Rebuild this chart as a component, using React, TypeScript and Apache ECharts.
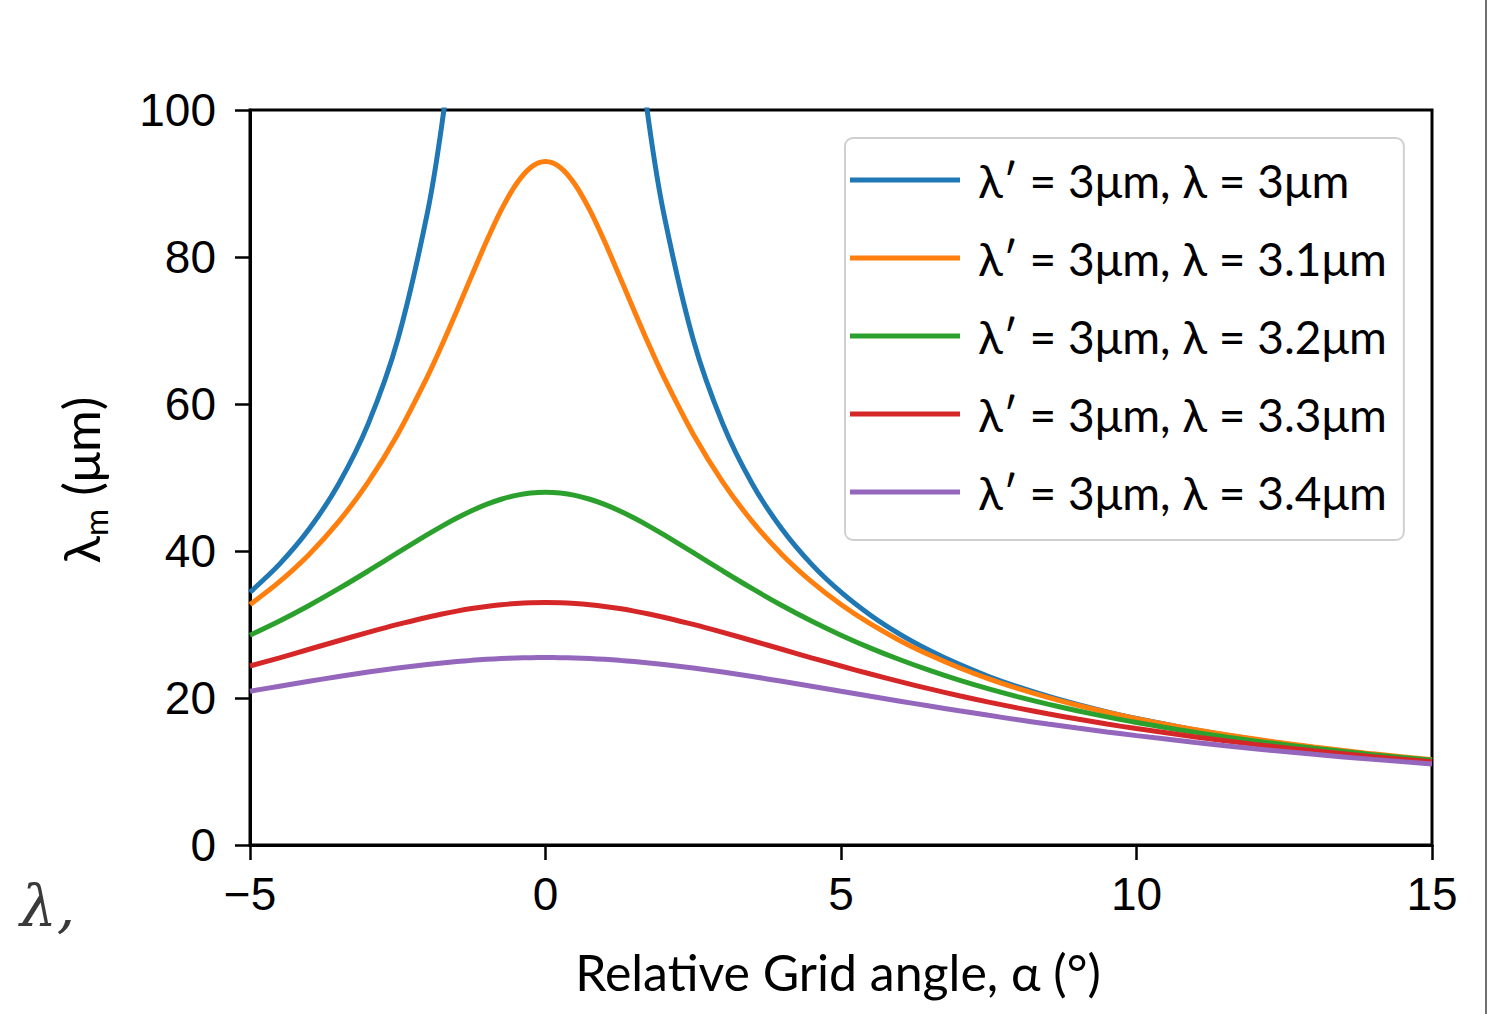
import React, { useEffect, useRef } from 'react';
import * as echarts from 'echarts';

// Relative grid angle α (degrees)
const alphaDeg = [-5, -4.5, -4, -3.5, -3, -2.5, -2, -1.75, -1.5, -1.25, -1, -0.75, -0.5, -0.25, 0, 0.25, 0.5, 0.75, 1, 1.25, 1.5, 1.75, 2, 2.5, 3, 3.5, 4, 4.5, 5, 5.5, 6, 6.5, 7, 7.5, 8, 8.5, 9, 9.5, 10, 11, 12, 13, 14, 15];

const seriesNames = [
  'λ′ = 3μm, λ = 3μm',
  'λ′ = 3μm, λ = 3.1μm',
  'λ′ = 3μm, λ = 3.2μm',
  'λ′ = 3μm, λ = 3.3μm',
  'λ′ = 3μm, λ = 3.4μm',
];

// λm (μm) for each curve
const lambda30 = [34.39, 38.21, 42.98, 49.12, 57.3, 68.76, 85.95, 98.23, 114.6, 137.5, 171.9, 229.2, 343.8, 687.5, null, 687.5, 343.8, 229.2, 171.9, 137.5, 114.6, 98.23, 85.95, 68.76, 57.3, 49.12, 42.98, 38.21, 34.39, 31.26, 28.66, 26.46, 24.57, 22.93, 21.5, 20.24, 19.12, 18.11, 17.21, 15.65, 14.35, 13.25, 12.31, 11.49];
const lambda31 = [32.72, 35.84, 39.54, 43.99, 49.37, 55.88, 63.68, 68.05, 72.68, 77.43, 82.1, 86.37, 89.87, 92.19, 93.0, 92.19, 89.87, 86.37, 82.1, 77.43, 72.68, 68.05, 63.68, 55.88, 49.37, 43.99, 39.54, 35.84, 32.72, 30.07, 27.8, 25.84, 24.12, 22.61, 21.28, 20.09, 19.02, 18.06, 17.19, 15.68, 14.41, 13.33, 12.4, 11.59];
const lambda32 = [28.55, 30.48, 32.59, 34.87, 37.28, 39.77, 42.22, 43.39, 44.48, 45.47, 46.34, 47.04, 47.57, 47.89, 48.0, 47.89, 47.57, 47.04, 46.34, 45.47, 44.48, 43.39, 42.22, 39.77, 37.28, 34.87, 32.59, 30.48, 28.55, 26.79, 25.2, 23.75, 22.43, 21.24, 20.16, 19.17, 18.26, 17.43, 16.67, 15.32, 14.16, 13.16, 12.29, 11.52];
const lambda33 = [24.35, 25.47, 26.63, 27.79, 28.93, 30.01, 30.99, 31.43, 31.82, 32.17, 32.46, 32.69, 32.86, 32.97, 33.0, 32.97, 32.86, 32.69, 32.46, 32.17, 31.82, 31.43, 30.99, 30.01, 28.93, 27.79, 26.63, 25.47, 24.35, 23.26, 22.22, 21.24, 20.31, 19.44, 18.62, 17.85, 17.14, 16.46, 15.84, 14.7, 13.69, 12.81, 12.02, 11.32];
const lambda34 = [20.92, 21.61, 22.27, 22.92, 23.53, 24.08, 24.56, 24.77, 24.96, 25.12, 25.26, 25.36, 25.44, 25.48, 25.5, 25.48, 25.44, 25.36, 25.26, 25.12, 24.96, 24.77, 24.56, 24.08, 23.53, 22.92, 22.27, 21.61, 20.92, 20.24, 19.57, 18.9, 18.26, 17.64, 17.03, 16.46, 15.91, 15.38, 14.88, 13.95, 13.1, 12.34, 11.65, 11.03];

const colors = ['#1f77b4', '#ff7f0e', '#2ca02c', '#d62728', '#9467bd'];

const xTicks = { min: -5, max: 15, interval: 5 };
const yTicks = { min: 0, max: 100, interval: 20 };

export default function App() {
  const ref = useRef<HTMLDivElement>(null);

  useEffect(() => {
    document.body.style.margin = '0';
    const chart = echarts.init(ref.current!, null, { renderer: 'svg' });
    const values = [lambda30, lambda31, lambda32, lambda33, lambda34];
    const tickFont = 'Liberation Sans, Arial, sans-serif';
    const textFont = 'Lato, Carlito, sans-serif';

    chart.setOption({
      animation: false,
      backgroundColor: '#ffffff',
      grid: {
        left: 250,
        right: 63,
        top: 110,
        bottom: 169,
        show: true,
        borderColor: '#000',
        borderWidth: 3,
        backgroundColor: 'transparent',
      },
      xAxis: {
        type: 'value',
        min: xTicks.min,
        max: xTicks.max,
        interval: xTicks.interval,
        axisLine: { show: true, onZero: false, lineStyle: { color: '#000', width: 3 } },
        axisTick: { show: true, length: 15, lineStyle: { color: '#000', width: 2.5 } },
        splitLine: { show: false },
        axisLabel: {
          color: '#000',
          fontSize: 46,
          fontFamily: tickFont,
          margin: 26,
          formatter: (v: number) => (v < 0 ? '\u2212' + Math.abs(v) : String(v)),
        },
      },
      yAxis: {
        type: 'value',
        min: yTicks.min,
        max: yTicks.max,
        interval: yTicks.interval,
        axisLine: { show: true, onZero: false, lineStyle: { color: '#000', width: 3 } },
        axisTick: { show: true, length: 15, lineStyle: { color: '#000', width: 2.5 } },
        splitLine: { show: false },
        axisLabel: { color: '#000', fontSize: 46, fontFamily: tickFont, margin: 34 },
      },
      legend: {
        orient: 'vertical',
        left: 845,
        top: 138,
        icon: 'rect',
        itemWidth: 110,
        itemHeight: 5,
        itemGap: 28,
        padding: [17, 17, 23, 5],
        backgroundColor: 'rgba(255,255,255,0.8)',
        borderColor: '#d0d0d0',
        borderWidth: 2,
        borderRadius: 8,
        textStyle: {
          color: '#000',
          fontSize: 46,
          fontFamily: textFont,
          lineHeight: 50,
          padding: [0, 0, 0, 13],
        },
        data: seriesNames,
      },
      series: values.map((vals, i) => ({
        name: seriesNames[i],
        type: 'line',
        data: alphaDeg.map((a, j) => [a, vals[j]]),
        showSymbol: false,
        symbol: 'none',
        smooth: 0.3,
        clip: true,
        lineStyle: { color: colors[i], width: 5 },
        itemStyle: { color: colors[i] },
      })),
      graphic: [
        {
          type: 'text',
          x: 838,
          y: 972,
          style: {
            text: 'Relative Grid angle, α (°)',
            fill: '#000',
            fontSize: 50,
            fontFamily: textFont,
            align: 'center',
            verticalAlign: 'middle',
          },
        },
        {
          type: 'text',
          x: 80,
          y: 480,
          rotation: Math.PI / 2,
          style: {
            text: '{a|λ}{b|m}{a| (μm)}',
            fill: '#000',
            align: 'center',
            verticalAlign: 'middle',
            rich: {
              a: { fontSize: 51, fontFamily: textFont, fill: '#000' },
              b: { fontSize: 33, fontFamily: textFont, fill: '#000', verticalAlign: 'bottom', padding: [0, 0, -6, 0] },
            },
          },
        },
        {
          type: 'text',
          x: 20,
          y: 906,
          style: {
            text: 'λ,',
            fill: '#3a3a3a',
            fontSize: 58,
            fontStyle: 'italic',
            fontFamily: 'DejaVu Serif, Liberation Serif, serif',
            verticalAlign: 'middle',
          },
        },
        {
          type: 'line',
          shape: { x1: 1486, y1: 0, x2: 1486, y2: 1014 },
          style: { stroke: '#707070', lineWidth: 2 },
        },
      ],
    });

    return () => chart.dispose();
  }, []);

  return <div ref={ref} style={{ position: 'fixed', left: 0, top: 0, width: 1495, height: 1014 }} />;
}
